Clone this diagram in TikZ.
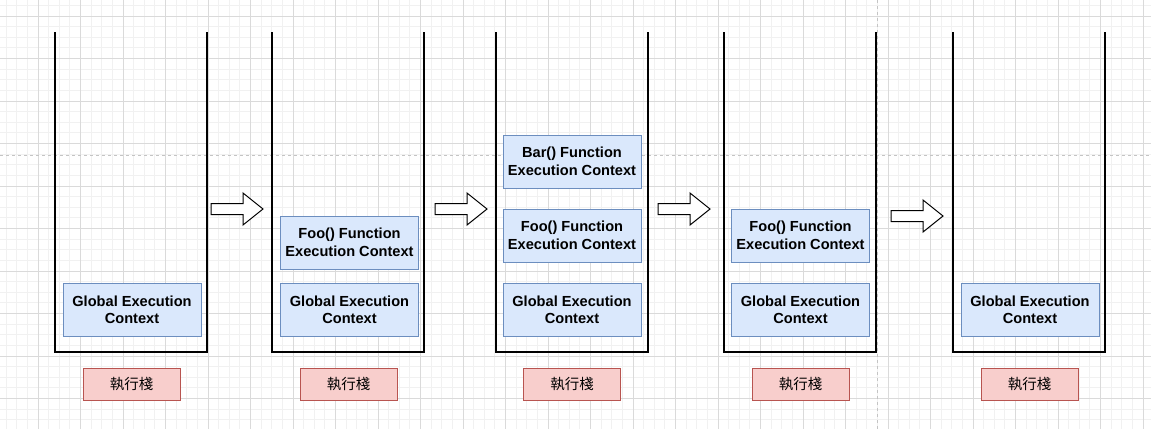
\documentclass[tikz,border=0pt]{standalone}
\usepackage{fontspec}
\setmainfont{Liberation Sans}
\newfontfamily\cjk{Noto Sans CJK TC}
\definecolor{CtxFill}{HTML}{DAE8FC}
\definecolor{CtxLine}{HTML}{6C8EBF}
\definecolor{TagFill}{HTML}{F8CECC}
\definecolor{TagLine}{HTML}{B85450}
\definecolor{GridMinor}{HTML}{F1F1F1}
\definecolor{GridMajor}{HTML}{DADADA}
\definecolor{PageLine}{HTML}{C4C4C4}
\tikzset{
  ctx/.style={draw=CtxLine, fill=CtxFill, line width=1pt, minimum width=138pt, minimum height=53pt,
    inner sep=0pt, align=center, font=\fontsize{14.6}{17.5}\selectfont\bfseries},
  tag/.style={draw=TagLine, fill=TagFill, line width=1pt, minimum width=97pt, minimum height=32pt,
    inner sep=0pt, font=\cjk\fontsize{14.5}{16}\selectfont},
  wall/.style={line width=2pt, black, line join=miter},
  blockarrow/.style={draw=black, fill=white, line width=1pt, line join=miter}
}

\begin{document}
\begin{tikzpicture}[x=1pt, y=-1pt]
    \useasboundingbox (0,0) rectangle (1151,429);
    \fill[white] (0,0) rectangle (1151,429);
    % background grid
    \foreach \i in {0,...,109} {
      \draw[GridMinor, line width=0.8pt] ({-4.5+10.625*\i},0) -- ({-4.5+10.625*\i},429);
    }
    \foreach \i in {0,...,41} {
      \draw[GridMinor, line width=0.8pt] (0,{-5.25+10.625*\i}) -- (1151,{-5.25+10.625*\i});
    }
    \foreach \i in {0,...,27} {
      \draw[GridMajor, line width=0.8pt] ({-4.5+42.5*\i},0) -- ({-4.5+42.5*\i},429);
    }
    \foreach \i in {0,...,10} {
      \draw[GridMajor, line width=0.8pt] (0,{16+42.5*\i}) -- (1151,{16+42.5*\i});
    }
    \draw[PageLine, dashed, line width=0.8pt] (0,155) -- (1151,155);
    \draw[PageLine, dashed, line width=0.8pt] (877,0) -- (877,429);

    % stacks
    \foreach \l in {55,272,496,724,953} {
      \draw[wall] (\l,32) -- (\l,352) -- ({\l+152},352) -- ({\l+152},32);
    }

    % contexts
    \node[ctx] (global1) at (132,310) {Global Execution\\Context};
    \node[ctx] (global2) at (349.5,310) {Global Execution\\Context};
    \node[ctx] (foo2) at (349.5,242.5) {Foo() Function\\Execution Context};
    \node[ctx] (global3) at (572,310) {Global Execution\\Context};
    \node[ctx] (foo3) at (572,235.5) {Foo() Function\\Execution Context};
    \node[ctx] (bar3) at (572,161.5) {Bar() Function\\Execution Context};
    \node[ctx] (global4) at (800.5,310) {Global Execution\\Context};
    \node[ctx] (foo4) at (800.5,235.5) {Foo() Function\\Execution Context};
    \node[ctx] (global5) at (1030,310) {Global Execution\\Context};

    % labels
    \foreach \c/\n in {131.5/1,348.5/2,572/3,800.5/4,1029.5/5} {
      \node[tag] (stack\n) at (\c,384) {執行棧};
    }

    % step arrows
    \foreach \x/\y in {211/209,435/209,658/209,891/216} {
      \draw[blockarrow] (\x,{\y-5.5}) -- ++(32,0) -- ++(0,-10.5) -- ++(20,16) -- ++(-20,16)
        -- ++(0,-10.5) -- ++(-32,0) -- cycle;
    }
\end{tikzpicture}
\end{document}
